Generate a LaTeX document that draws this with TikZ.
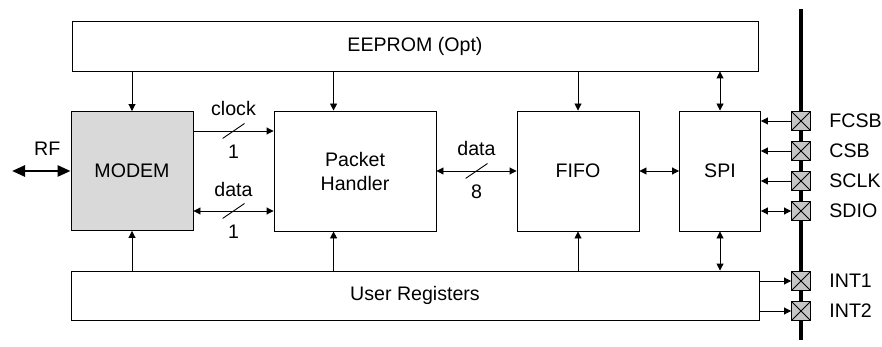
\documentclass[tikz,border=0pt]{standalone}
\usepackage{fontspec}
\setmainfont{Liberation Sans}
\usetikzlibrary{arrows.meta, positioning}
\tikzset{x = 1pt, y = -1pt,
         >= {Triangle[length = 7pt, width = 7pt]},
         every node/.style = {font = \fontsize{19.6}{24}\selectfont},
         every path/.style = {line width = 0.9pt},
         block/.style = {draw, inner sep = 0pt, align = center},
         lbl/.style = {inner sep = 0pt},
         tick/.style = {minimum width = 22pt, minimum height = 15pt, inner sep = 0pt,
           path picture = {\draw[-] (path picture bounding box.south west)
                              -- (path picture bounding box.north east);}},
         pad/.style = {draw, fill = gray!45, minimum size = 19pt, inner sep = 0pt,
           path picture = {\draw[-] (path picture bounding box.north west)
                              -- (path picture bounding box.south east)
                                 (path picture bounding box.south west)
                              -- (path picture bounding box.north east);}}}

\begin{document}
\begin{tikzpicture}
        \useasboundingbox (0,0) rectangle (882,347);

        \node[block, minimum width = 686pt, minimum height = 50pt]  (eeprom) at (415,46)    {EEPROM (Opt)};
        \node[block, fill = gray!30,
              minimum width = 122pt, minimum height = 119pt]        (modem)  at (132,171)   {MODEM};
        \node[block, minimum width = 162pt, minimum height = 120pt] (ph)     at (355,171)   {Packet\\Handler};
        \node[block, minimum width = 122pt, minimum height = 120pt] (fifo)   at (578,171)   {FIFO};
        \node[block, minimum width = 81pt, minimum height = 120pt]  (spi)    at (720,171)   {SPI};
        \node[block, minimum width = 688pt, minimum height = 49pt]  (ureg)   at (415,295.5) {User Registers};

        % pin bus
        \coordinate (bustop) at (801,9);
        \coordinate (busbot) at (801,340);
        \draw[line width = 3.4pt] (bustop) -- (busbot);

        \node[pad] (fcsb) at (801,121) {};
        \node[pad] (csb)  at (801,151) {};
        \node[pad] (sclk) at (801,181) {};
        \node[pad] (sdio) at (801,211) {};
        \node[pad] (int1) at (801,281) {};
        \node[pad] (int2) at (801,311) {};

        \node[lbl, right = 18pt of fcsb] {FCSB};
        \node[lbl, right = 18pt of csb]  {CSB};
        \node[lbl, right = 18pt of sclk] {SCLK};
        \node[lbl, right = 18pt of sdio] {SDIO};
        \node[lbl, right = 18pt of int1] {INT1};
        \node[lbl, right = 18pt of int2] {INT2};

        \draw[->]  (fcsb) -- (fcsb -| spi.east);
        \draw[->]  (csb)  -- (csb -| spi.east);
        \draw[->]  (sclk) -- (sclk -| spi.east);
        \draw[<->] (sdio) -- (sdio -| spi.east);
        \draw[->]  (int1 -| ureg.east) -- (int1);
        \draw[->]  (int2 -| ureg.east) -- (int2);

        % EEPROM and User Registers links
        \coordinate (phtop) at ([xshift = 60pt]ph.north west);
        \coordinate (phbot) at ([xshift = 60pt]ph.south west);

        \draw[->]  (eeprom.south -| modem.north) -- (modem.north);
        \draw[->]  (eeprom.south -| phtop)       -- (phtop);
        \draw[->]  (eeprom.south -| fifo.north)  -- (fifo.north);
        \draw[<->] (eeprom.south -| spi.north)   -- (spi.north);

        \draw[->]  (ureg.north -| modem.south) -- (modem.south);
        \draw[->]  (ureg.north -| phbot)       -- (phbot);
        \draw[->]  (ureg.north -| fifo.south)  -- (fifo.south);
        \draw[<->] (ureg.north -| spi.south)   -- (spi.south);

        % data path
        \coordinate (clk) at ([yshift = 40pt]modem.east);
        \coordinate (dat) at ([yshift = -40pt]modem.east);

        \draw[->]  (clk) -- node[tick] (clkmid) {} (clk -| ph.west);
        \draw[<->] (dat) -- node[tick] (datmid) {} (dat -| ph.west);
        \draw[<->] (ph)  -- node[tick] (busmid) {} (fifo);
        \draw[<->] (fifo) -- (spi);

        \node[lbl, above = 6.5pt of clkmid] {clock};
        \node[lbl, below = 5.5pt of clkmid] {1};
        \node[lbl, above = 5.5pt of datmid] {data};
        \node[lbl, below = 5.5pt of datmid] {1};
        \node[lbl, above = 6.5pt of busmid] {data};
        \node[lbl, below = 5.5pt of busmid] {8};

        % RF port
        \coordinate (rf) at (12,171);
        \draw[<->, line width = 2.6pt, >={Triangle[length = 13pt, width = 11pt]}]
              (rf) -- node[lbl, midway, above = 14pt, xshift = 6pt] (rftxt) {RF} (modem.west);
    \end{tikzpicture}
\end{document}
